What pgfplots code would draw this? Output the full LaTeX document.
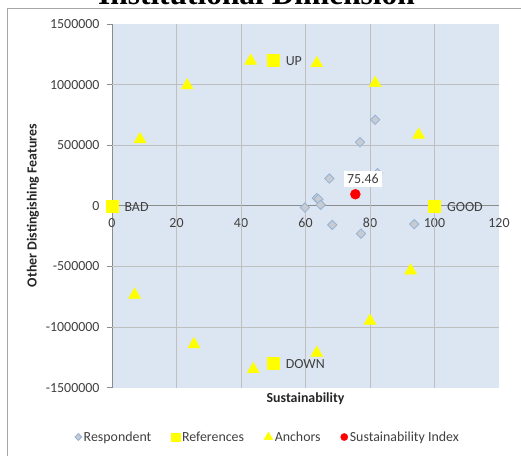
\documentclass[border=0pt]{standalone}
\usepackage{pgfplots}
\pgfplotsset{compat=1.18}
\usepackage{fontspec}
\setmainfont{Carlito}
\newfontfamily\titlefont{Liberation Serif}

\definecolor{bgblue}{HTML}{DCE6F2}
\definecolor{gridgray}{HTML}{BFBFBF}
\definecolor{axisgray}{HTML}{8C8C8C}
\definecolor{txtgray}{HTML}{404040}
\definecolor{respfill}{HTML}{C8CBD0}
\definecolor{respedge}{HTML}{95B3D7}
\definecolor{framegray}{HTML}{A6A6A6}
\definecolor{anchoryellow}{HTML}{FFFF00}

\begin{document}
\begin{tikzpicture}
\useasboundingbox (0,0) rectangle (521pt,-456pt);
% title, cut off at the top as in the original
\begin{scope}
  \clip (0,0) rectangle (521pt,-456pt);
  \node[anchor=base, inner sep=0pt, font=\titlefont\bfseries\fontsize{31.4}{34}\selectfont]
    at (256.5pt,-4.5pt) {Institutional Dimension};
\end{scope}
\draw[framegray, line width=0.8pt] (7pt,-456pt) -- (7pt,-8pt) -- (521pt,-8pt);

\begin{axis}[
  at={(112pt,-387.7pt)}, anchor=south west,
  scale only axis, width=387pt, height=363.7pt,
  xmin=0, xmax=120, ymin=-1500000, ymax=1500000,
  scaled y ticks=false, scaled x ticks=false,
  axis background/.style={fill=bgblue},
  axis x line*=middle, axis y line*=left,
  axis line style={draw=axisgray, line width=0.8pt},
  hide obscured x ticks=false, hide obscured y ticks=false,
  xtick={0,20,...,120}, xticklabels={0,20,40,60,80,100,120},
  ytick={-1500000,-1000000,-500000,0,500000,1000000,1500000},
  yticklabels={-1500000,-1000000,-500000,0,500000,1000000,1500000},
  tick align=outside, major tick length=5pt,
  tick style={draw=axisgray, line width=0.8pt},
  xtick style={draw=none},
  extra x ticks={20,40,60,80,100}, extra x tick labels={},
  extra y ticks={-1000000,-500000,500000,1000000}, extra y tick labels={},
  extra x tick style={grid=major, tick style={draw=none}},
  extra y tick style={grid=major, tick style={draw=none}},
  grid style={draw=gridgray, line width=0.8pt},
  ticklabel style={font=\fontsize{13.9}{16}\selectfont, text=txtgray},
  yticklabel style={xshift=-4pt},
  xticklabel style={yshift=-4pt},
  legend columns=4,
  legend style={at={(axis description cs:0.403,-0.1356)}, anchor=center,
    draw=none, fill=none, font=\fontsize{13.9}{16}\selectfont, text=txtgray,
    /tikz/every even column/.append style={column sep=18pt}},
  legend image code/.code={\draw[mark repeat=2,mark phase=2,#1]
    plot coordinates {(0pt,0pt) (4pt,0pt) (8pt,0pt)};},
  legend image post style={/tikz/every mark/.append style={scale=0.72}},
  clip=false,
]
% respondents
\addplot[only marks, mark=square*, mark size=3.3pt,
  mark options={rotate=45, fill=respfill, draw=respedge, line width=0.8pt}]
  coordinates {
  (81.6,710000) (76.9,525000) (67.4,225000) (63.5,64000) (64.0,55000)
  (64.7,8000) (59.8,-14000) (68.3,-157000) (77.2,-229000) (93.7,-151000)
  (82.3,270000)
};
\addlegendentry{Respondent}
% references
\addplot[only marks, mark=square*, mark size=6pt,
  mark options={fill=anchoryellow, draw=anchoryellow},
  point meta=explicit symbolic, nodes near coords,
  every node near coord/.style={anchor=west, xshift=9pt, yshift=-1pt,
    font=\fontsize{13.9}{16}\selectfont, text=txtgray}]
  table[meta=label] {
x y label
0 0 BAD
100 0 GOOD
50 1200000 UP
50 -1300000 DOWN
};
\addlegendentry{References}
% anchors
\addplot[only marks, mark=triangle*, mark size=7pt,
  mark options={fill=anchoryellow, draw=anchoryellow}]
  coordinates {
  (43.0,1196000) (63.5,1176000) (23.3,993000) (81.6,1012000)
  (8.7,549000) (95.1,586000) (92.6,-534000) (7.0,-734000)
  (25.4,-1142000) (43.8,-1348000) (63.5,-1214000) (80.0,-949000)
};
\addlegendentry{Anchors}
% sustainability index
\addplot[only marks, mark=*, mark size=5pt,
  mark options={fill=red, draw=red},
  point meta=explicit symbolic, nodes near coords,
  every node near coord/.style={anchor=center, xshift=7.5pt, yshift=15pt,
    fill=white, inner sep=3.5pt, font=\fontsize{13.9}{16}\selectfont, text=txtgray}]
  table[meta=label] {
x y label
75.46 96000 75.46
};
\addlegendentry{Sustainability Index}
\end{axis}

\node[font=\bfseries\fontsize{13.9}{16}\selectfont, text=black!85] at (305.5pt,-399pt) {Sustainability};
\node[rotate=90, font=\bfseries\fontsize{13.9}{16}\selectfont, text=black!85] at (33pt,-205.5pt) {Other Distingishing Features};
\end{tikzpicture}
\end{document}
